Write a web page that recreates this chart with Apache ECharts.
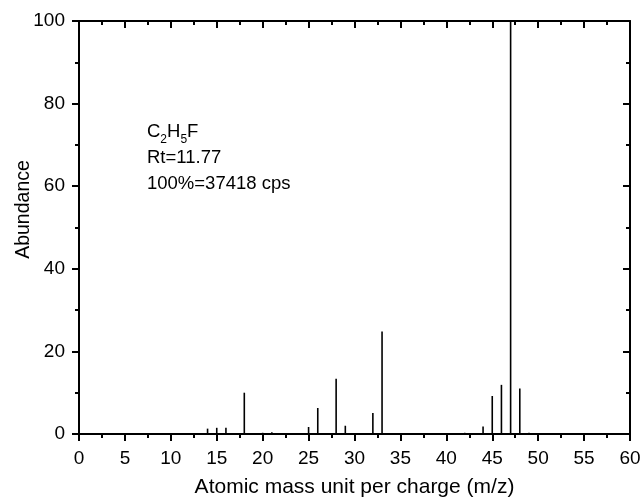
<!DOCTYPE html>
<html><head><meta charset="utf-8">
<script src="https://cdn.jsdelivr.net/npm/echarts@6/dist/echarts.min.js"></script>
<style>html,body{margin:0;padding:0;background:#fff}#c{width:643px;height:499px}</style>
</head><body><div id="c"></div>
<script>
const mz = [14, 15, 16, 18, 20, 21, 25, 26, 28, 29, 32, 33, 42, 44, 45, 46, 47, 48, 49];
const abundance = [1.3, 1.5, 1.5, 10.0, 0.3, 0.4, 1.7, 6.3, 13.4, 2.0, 5.1, 24.8, 0.3, 1.8, 9.2, 11.9, 100, 11.0, 0.3];
const xTicks = [0, 60, 5];
const yTicks = [0, 100, 20];
const noteLines = ['{n|C}{s|2}{n|H}{s|5}{n|F}', '{n|Rt=11.77}', '{n|100%=37418 cps}'];

const FONT = 'Liberation Sans, Arial, sans-serif';
const chart = echarts.init(document.getElementById('c'));
const lineStyle = {color: '#000', width: 2};
chart.setOption({
  animation: false,
  grid: {left: 79, right: 13, top: 21, bottom: 65, containLabel: false, outerBoundsMode: 'none'},
  xAxis: [{
    type: 'value', min: xTicks[0], max: xTicks[1], interval: xTicks[2],
    position: 'bottom',
    axisLine: {show: true, onZero: false, lineStyle: lineStyle},
    axisTick: {show: true, inside: false, length: 7, lineStyle: {color: '#000', width: 2}},
    minorTick: {show: true, splitNumber: 2, length: 4, lineStyle: {color: '#000', width: 2}},
    splitLine: {show: false},
    axisLabel: {color: '#000', fontSize: 19, fontFamily: FONT, margin: 15},
    name: 'Atomic mass unit per charge (m/z)', nameLocation: 'middle', nameGap: 43,
    nameTextStyle: {color: '#000', fontSize: 21, fontFamily: FONT}
  }, {
    type: 'value', min: xTicks[0], max: xTicks[1], interval: xTicks[2],
    position: 'top',
    axisLine: {show: true, onZero: false, lineStyle: lineStyle},
    axisTick: {show: true, inside: true, length: 7, lineStyle: {color: '#000', width: 2}},
    minorTick: {show: true, splitNumber: 2, length: 4, lineStyle: {color: '#000', width: 2}},
    splitLine: {show: false},
    axisLabel: {show: false}
  }],
  yAxis: [{
    type: 'value', min: yTicks[0], max: yTicks[1], interval: yTicks[2],
    position: 'left',
    axisLine: {show: true, onZero: false, lineStyle: lineStyle},
    axisTick: {show: true, inside: false, length: 7, lineStyle: {color: '#000', width: 2}},
    minorTick: {show: true, splitNumber: 2, length: 4, lineStyle: {color: '#000', width: 2}},
    splitLine: {show: false},
    axisLabel: {color: '#000', fontSize: 19, fontFamily: FONT, margin: 14},
    name: 'Abundance', nameLocation: 'middle', nameGap: 45, nameMoveOverlap: false,
    nameTextStyle: {color: '#000', fontSize: 19.5, fontFamily: FONT, padding: [0, 0, 0, 36]}
  }, {
    type: 'value', min: yTicks[0], max: yTicks[1], interval: yTicks[2],
    position: 'right',
    axisLine: {show: true, onZero: false, lineStyle: lineStyle},
    axisTick: {show: true, inside: true, length: 7, lineStyle: {color: '#000', width: 2}},
    minorTick: {show: true, splitNumber: 2, length: 4, lineStyle: {color: '#000', width: 2}},
    splitLine: {show: false},
    axisLabel: {show: false}
  }],
  graphic: [{
    type: 'text', left: 147, top: 122,
    style: {
      text: noteLines.join('\n'),
      rich: {
        n: {fontSize: 18.5, fontFamily: FONT, fill: '#000', lineHeight: 26, verticalAlign: 'bottom'},
        s: {fontSize: 12, fontFamily: FONT, fill: '#000', lineHeight: 26, verticalAlign: 'bottom', padding: [0, 0, -5, 0]}
      }
    }
  }],
  series: [{
    type: 'bar', xAxisIndex: 0, yAxisIndex: 0,
    barWidth: 1.6,
    itemStyle: {color: '#000'},
    data: mz.map((m, i) => [m, abundance[i]])
  }]
});
</script></body></html>
